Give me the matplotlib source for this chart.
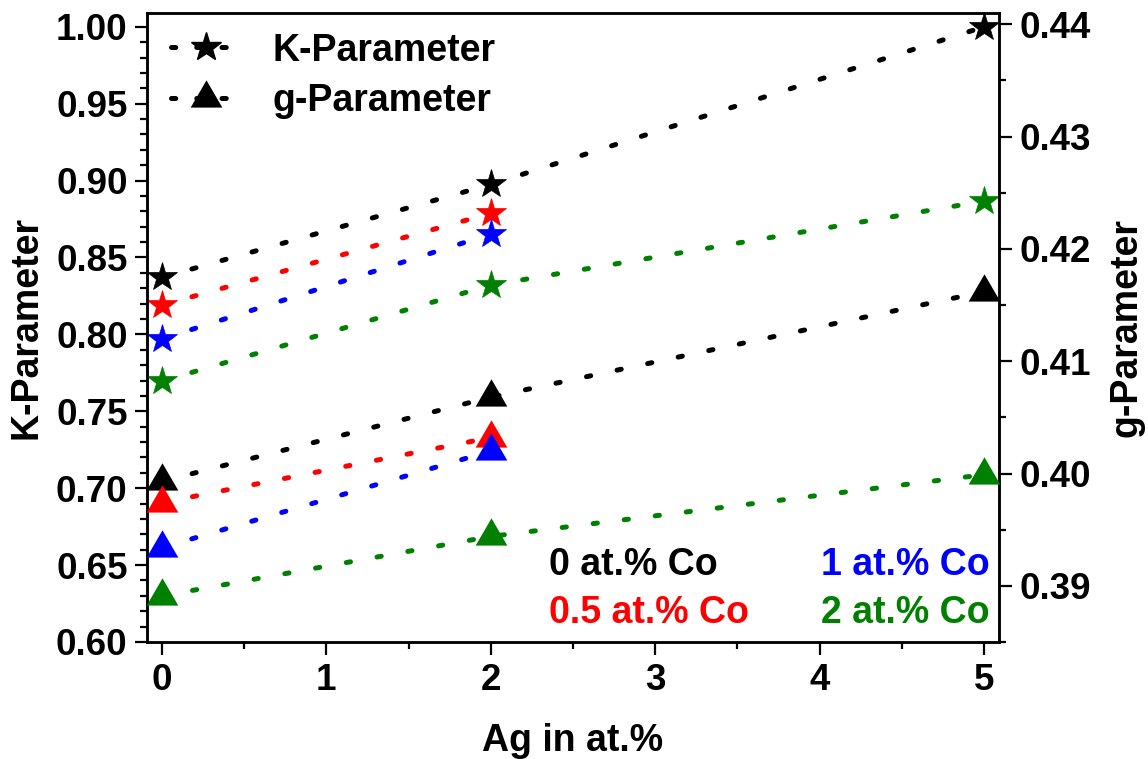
import matplotlib
matplotlib.use("Agg")
import matplotlib.pyplot as plt
from matplotlib.ticker import MultipleLocator, FormatStrFormatter
from matplotlib.lines import Line2D
from matplotlib.transforms import Affine2D

plt.rcParams['font.family'] = ['Liberation Sans', 'DejaVu Sans']
plt.rcParams['font.weight'] = 'bold'

# ---- data ----
ag_0 = [0, 2, 5]       # 0 at.% Co
ag_05 = [0, 2]         # 0.5 at.% Co
ag_1 = [0, 2]          # 1 at.% Co
ag_2 = [0, 2, 5]       # 2 at.% Co

k_0 = [0.837, 0.8975, 1.000]
k_05 = [0.819, 0.8787]
k_1 = [0.797, 0.8652]
k_2 = [0.7696, 0.832, 0.8867]

g_0 = [0.3993, 0.4068, 0.4162]
g_05 = [0.3974, 0.4032]
g_1 = [0.3934, 0.4020]
g_2 = [0.3891, 0.3944, 0.3999]

series_labels = ['0 at.% Co', '0.5 at.% Co', '1 at.% Co', '2 at.% Co']
colors = ['black', '#FF0000', '#0000FF', '#008000']

x_ticks = [0, 1, 2, 3, 4, 5]

# ---- figure ----
W, H = 1148, 759
fig = plt.figure(figsize=(W / 100, H / 100), dpi=100)
L, R, T, B = 147, 999, 13.4, 642
ax = fig.add_axes([L / W, 1 - B / H, (R - L) / W, (B - T) / H])
ax2 = ax.twinx()

ax.set_xlim(-0.09, 5.09)
ax.set_ylim(0.60, 1.0087)
ax2.set_ylim(0.385, 0.44097)

tri = [(-1, -0.574), (1, -0.574), (0, 1.148)]
lw = 3.6
ls = (0, (0.85, 5.4))

xs = [ag_0, ag_05, ag_1, ag_2]
ks = [k_0, k_05, k_1, k_2]
gs = [g_0, g_05, g_1, g_2]
for x, k, g, c in zip(xs, ks, gs, colors):
    ax.plot(x, k, color=c, lw=lw, linestyle=ls, dash_capstyle='round',
            marker='*', ms=22, mec=c, mfc=c, mew=0.5, clip_on=False, zorder=3)
    ax2.plot(x, g, color=c, lw=lw, linestyle=ls, dash_capstyle='round',
             marker=tri, ms=26.2, mec=c, mfc=c, mew=0, clip_on=False, zorder=3)

# ticks
ax.set_xticks(x_ticks)
ax.xaxis.set_minor_locator(MultipleLocator(0.5))
ax.yaxis.set_major_locator(MultipleLocator(0.05))
ax.yaxis.set_minor_locator(MultipleLocator(0.01))
ax2.yaxis.set_major_locator(MultipleLocator(0.01))
ax2.yaxis.set_minor_locator(MultipleLocator(0.005))
ax.yaxis.set_major_formatter(FormatStrFormatter('%.2f'))
ax2.yaxis.set_major_formatter(FormatStrFormatter('%.2f'))

for a in (ax, ax2):
    for s in a.spines.values():
        s.set_linewidth(1.8)
ax.tick_params(axis='both', which='major', direction='out', length=9, width=1.6,
               labelsize=26.5, top=False, right=False)
ax.tick_params(axis='both', which='minor', direction='out', length=5, width=1.6,
               top=False, right=False)
ax.tick_params(axis='x', which='major', pad=6)
ax.tick_params(axis='y', which='major', pad=5)
ax2.tick_params(axis='y', which='major', direction='out', length=9, width=1.6,
                labelsize=26.5, pad=6)
ax2.tick_params(axis='y', which='minor', direction='out', length=5, width=1.6)

ax.set_xlabel('Ag in at.%', fontsize=27, fontweight='bold', labelpad=18)
ax.set_ylabel('K-Parameter', fontsize=27, fontweight='bold', labelpad=8)
ax2.set_ylabel('g-Parameter', fontsize=27, fontweight='bold', labelpad=12)

# legend
leg_ls = (0, (0.85, 4.2))
handles = [
    Line2D([], [], color='black', lw=lw, linestyle=leg_ls, dash_capstyle='round',
           marker='*', ms=22),
    Line2D([], [], color='black', lw=lw, linestyle=leg_ls, dash_capstyle='round',
           marker=tri, ms=26.2, mew=0),
]
ax.legend(handles, ['K-Parameter', 'g-Parameter'], loc='upper left',
          bbox_to_anchor=(0.028, 0.9695), frameon=False, fontsize=27,
          handlelength=1.9, handletextpad=0.8, labelspacing=0.39,
          borderpad=0, borderaxespad=0, numpoints=1)

# series annotations (positions in figure pixels from top-left)
disp = Affine2D().scale(1, -1).translate(0, H)
ax.text(549, 565, series_labels[0], color=colors[0], fontsize=27, fontweight='bold',
        ha='left', va='center', transform=disp)
ax.text(549, 613, series_labels[1], color=colors[1], fontsize=27, fontweight='bold',
        ha='left', va='center', transform=disp)
ax.text(990, 565, series_labels[2], color=colors[2], fontsize=27, fontweight='bold',
        ha='right', va='center', transform=disp)
ax.text(990, 613, series_labels[3], color=colors[3], fontsize=27, fontweight='bold',
        ha='right', va='center', transform=disp)

fig.savefig('out.png', dpi=100)
